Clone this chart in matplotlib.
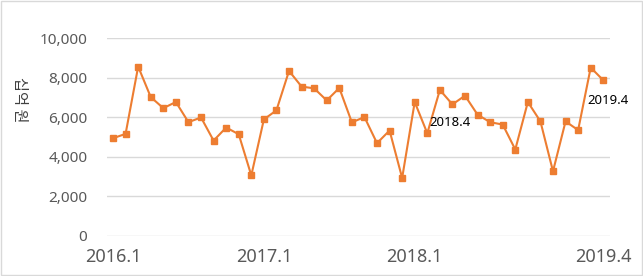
import matplotlib.pyplot as plt
from matplotlib.patches import Rectangle

plt.rcParams['font.family'] = ['Noto Sans', 'Noto Sans CJK KR', 'DejaVu Sans']

# monthly values 2016.1 - 2019.4 (십억 원)
values = [4940, 5160, 8560, 7020, 6460, 6770, 5750, 5990, 4820, 5480, 5140, 3060,
          5890, 6350, 8340, 7550, 7460, 6850, 7480, 5740, 6010, 4690, 5330, 2930,
          6770, 5190, 7380, 6650, 7090, 6130, 5750, 5630, 4370, 6770, 5790, 3270,
          5790, 5350, 8510, 7870]
tick_pos = [0, 12, 24, 39]
tick_labels = ['2016.1', '2017.1', '2018.1', '2019.4']
yticks = [0, 2000, 4000, 6000, 8000, 10000]

fig = plt.figure(figsize=(6.43, 2.76), dpi=100)
ax = fig.add_axes([0.166, 0.145, 0.782, 0.717])

x = list(range(len(values)))
ax.plot(x, values, color='#ED7D31', lw=1.5, marker='s', ms=4, zorder=3)

ax.set_xlim(-0.5, 39.5)
ax.set_ylim(0, 10000)
ax.set_yticks(yticks)
ax.set_yticklabels([f'{v:,}' for v in yticks], fontsize=11, color='#595959')
ax.set_xticks(tick_pos)
ax.set_xticklabels(tick_labels, fontsize=13, color='#595959')
ax.tick_params(length=0)
ax.tick_params(axis='y', pad=14)
ax.tick_params(axis='x', pad=9)
ax.grid(axis='y', color='#d9d9d9', lw=1)
ax.set_axisbelow(True)
for s in ax.spines.values():
    s.set_visible(False)

ax.text(25.2, 5750, '2018.4', fontsize=9.5, color='#000000', va='center', ha='left')
ax.text(37.7, 6850, '2019.4', fontsize=9.5, color='#000000', va='center', ha='left')

fig.text(0.03, 0.64, '십억 원', rotation=270, fontsize=11, color='#404040',
         ha='center', va='center', family=['Noto Sans CJK KR', 'DejaVu Sans'])

fig.patches.append(Rectangle((0.001, 0.002), 0.997, 0.995, transform=fig.transFigure,
                             fill=False, edgecolor='#d9d9d9', lw=1))

fig.savefig('out.png', dpi=100)
